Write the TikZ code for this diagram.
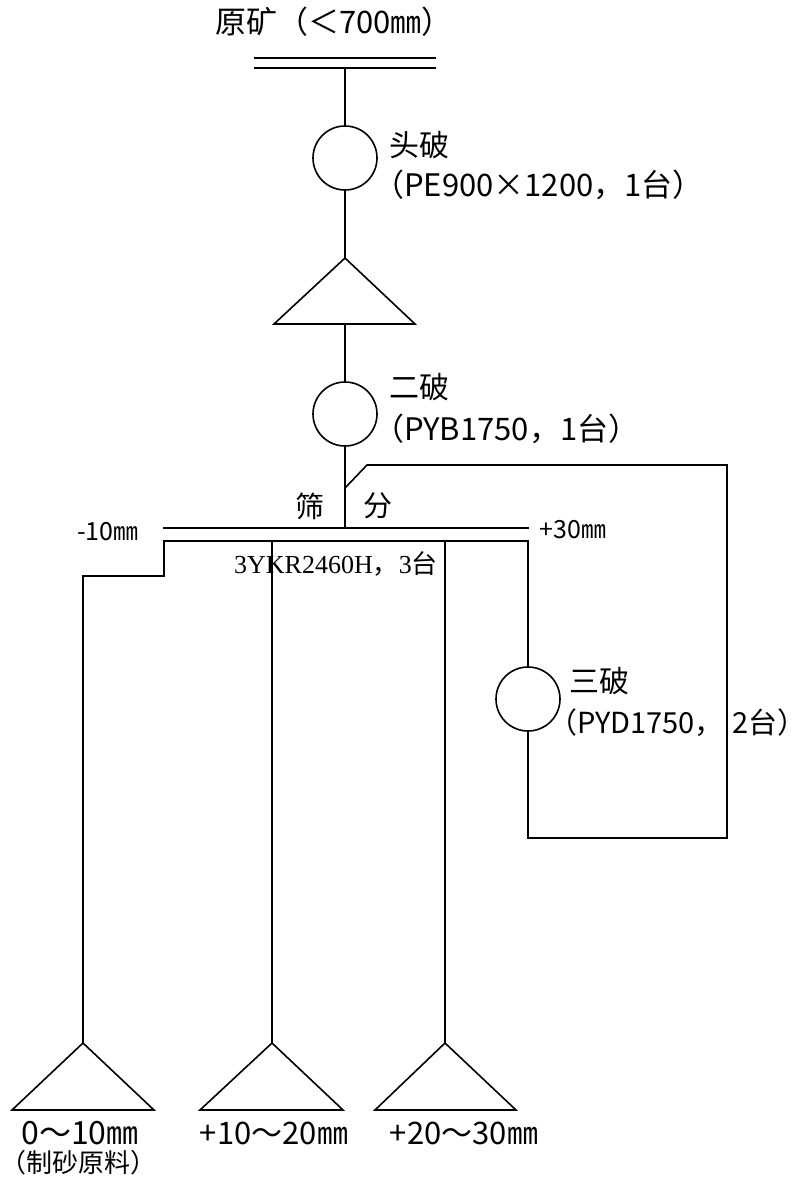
\documentclass[tikz,border=0pt]{standalone}
\usepackage{fontspec}
\setmainfont{Noto Sans CJK SC}
\newfontfamily\tnr{Liberation Serif}
\begin{document}
\begin{tikzpicture}[x=1pt,y=-1pt,
  ln/.style={line width=1.6pt},
  crusher/.style={circle,draw,line width=1.6pt,minimum size=64pt,inner sep=0pt},
  lbl/.style={anchor=west,inner sep=0pt,font=\fontsize{30}{32}\selectfont},
  mdl/.style={anchor=west,inner sep=0pt,font=\fontsize{31}{33}\selectfont},
  ctxt/.style={inner sep=0pt,font=\fontsize{29}{31}\selectfont},
  small/.style={inner sep=0pt,font=\fontsize{25}{27}\selectfont}]
\useasboundingbox[fill=white] (0,0) rectangle (806,1178);

% feed
\node[inner sep=0pt,font=\fontsize{31}{33}\selectfont] (title) at (334,22) {原矿（＜700㎜）};
\coordinate (fl1) at (254,58); \coordinate (fr1) at (436,58);
\coordinate (fl2) at (254,68); \coordinate (fr2) at (436,68);
\draw[ln] (fl1) -- (fr1);
\draw[ln] (fl2) -- (fr2);
\coordinate (feed) at (345,68);

% primary crusher
\node[crusher] (c1) at (345,158) {};
\node[lbl] (c1n) at (389,145) {头破};
\node[mdl] (c1m) at (373,185) {（PE900×1200，1台）};
\draw[ln] (feed) -- (c1.north);

% intermediate stockpile
\coordinate (t1a) at (345,258);
\coordinate (t1l) at (274,324);
\coordinate (t1r) at (415,324);
\coordinate (t1b) at (345,324);
\draw[ln] (t1a) -- (t1l) -- (t1r) -- cycle;
\draw[ln] (c1.south) -- (t1a);

% secondary crusher
\node[crusher] (c2) at (345,414) {};
\node[lbl] (c2n) at (389,387) {二破};
\node[mdl] (c2m) at (373,429) {（PYB1750，1台）};
\draw[ln] (t1b) -- (c2.north);

% screen
\coordinate (s) at (345,528);
\coordinate (sl1) at (163,528); \coordinate (sr1) at (529,528);
\coordinate (sl2) at (163,541); \coordinate (sr2) at (529,541);
\draw[ln] (c2.south) -- (s);
\draw[ln] (sl1) -- (sr1);
\draw[ln] (sl2) -- (sr2);
\node[ctxt] (sa) at (310,506) {筛};
\node[ctxt] (sb) at (378,506) {分};
\node[small] (m10) at (108,532) {-10㎜};
\node[small] (p30) at (573,530) {+30㎜};
\node[inner sep=0pt,font=\fontsize{26}{28}\selectfont] (scr) at (336,564) {{\tnr 3YKR2460H}，{\tnr 3}台};

% tertiary crusher and recycle
\node[crusher] (c3) at (528,699) {};
\node[lbl] (c3n) at (569,681) {三破};
\node[mdl,font=\fontsize{29}{31}\selectfont] (c3m) at (548,723) {（PYD1750，\hspace{0.3em}2台）};
\coordinate (c3top) at (528,541);
\draw[ln] (c3top) -- (c3.north);
\coordinate (r0) at (345,488);
\coordinate (r1) at (367,465);
\coordinate (r2) at (727,465);
\coordinate (r3) at (727,838);
\coordinate (r4) at (528,838);
\draw[ln] (c3.south) -- (r4) -- (r3) -- (r2) -- (r1) -- (r0);

% product stockpiles
\coordinate (p1a) at (83,1043);  \coordinate (p1l) at (12,1110);  \coordinate (p1r) at (154,1110);
\coordinate (p2a) at (272,1043); \coordinate (p2l) at (200,1110); \coordinate (p2r) at (343,1110);
\coordinate (p3a) at (445,1043); \coordinate (p3l) at (375,1110); \coordinate (p3r) at (516,1110);
\draw[ln] (p1a) -- (p1l) -- (p1r) -- cycle;
\draw[ln] (p2a) -- (p2l) -- (p2r) -- cycle;
\draw[ln] (p3a) -- (p3l) -- (p3r) -- cycle;

\coordinate (o1) at (164,541);
\coordinate (o1b) at (164,576);
\coordinate (o1c) at (83,576);
\coordinate (o2) at (272,541);
\coordinate (o3) at (445,541);
\draw[ln] (o1) -- (o1b) -- (o1c) -- (p1a);
\draw[ln] (o2) -- (p2a);
\draw[ln] (o3) -- (p3a);

\node[inner sep=0pt,font=\fontsize{32}{34}\selectfont] (l1) at (80,1133) {0～10㎜};
\node[inner sep=0pt,font=\fontsize{26}{28}\selectfont] (l1b) at (78,1163) {（制砂原料）};
\node[inner sep=0pt,font=\fontsize{31}{33}\selectfont] (l2) at (274,1133) {+10～20㎜};
\node[inner sep=0pt,font=\fontsize{31}{33}\selectfont] (l3) at (464,1133) {+20～30㎜};
\end{tikzpicture}
\end{document}
